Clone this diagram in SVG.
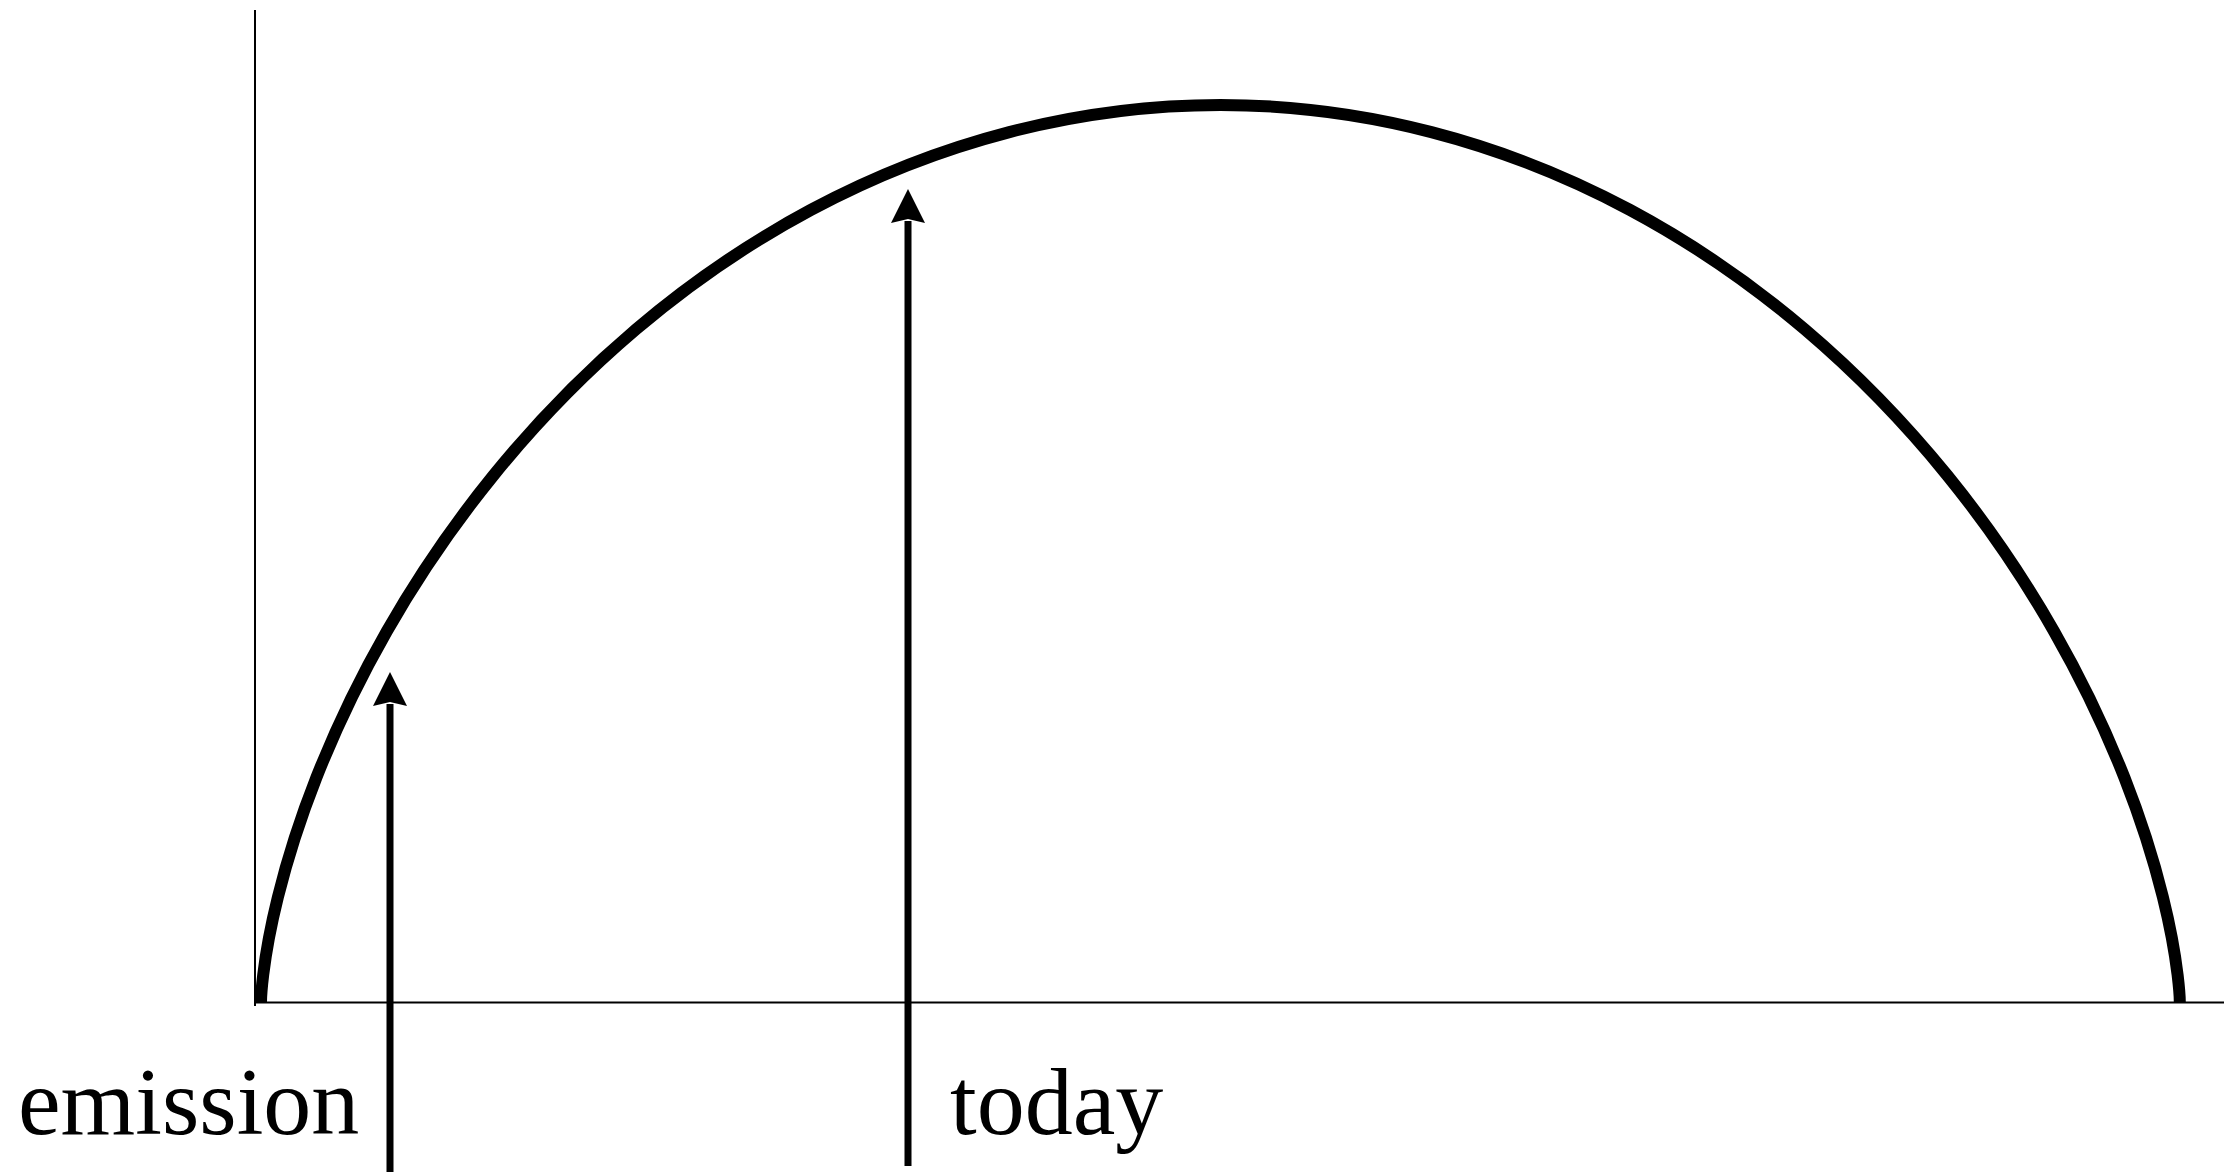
<svg xmlns="http://www.w3.org/2000/svg" width="2224" height="1172" viewBox="0 0 2224 1172">
<style>
.axis{stroke:#000;stroke-width:2;fill:none}
.curve{stroke:#000;stroke-width:12;fill:none;stroke-linecap:butt}
.arrow{stroke:#000;stroke-width:7;fill:none}
.label{font-family:"Liberation Serif","Times New Roman",serif;font-size:96px;fill:#000}
</style>
<defs>
<marker id="head" markerUnits="userSpaceOnUse" markerWidth="34" markerHeight="34" refX="2" refY="17" orient="auto" overflow="visible">
<path d="M0,0 L34,17 L0,34 L4,17 Z" fill="#000"/>
</marker>
</defs>
<g id="axes">
<line class="axis" x1="255" y1="10" x2="255" y2="1006"/>
<line class="axis" x1="255" y1="1002.5" x2="2224" y2="1002.5"/>
</g>
<g id="scale-factor-curve">
<path class="curve" d="M261,1002 C261,1002 261.06,992.75 263.2,974.9 C265.34,957.05 269.59,930.65 277.9,897.1 C286.21,863.55 298.53,823 316.3,777.8 C334.07,732.6 357.33,682.79 386.7,631.4 C416.07,580.01 451.59,526.99 493.3,475.6 C535.01,424.21 582.8,374.45 636.1,329.25 C689.4,284.05 748.14,243.45 810.9,209.9 C873.66,176.35 940.47,149.95 1009.4,132.1 C1078.33,114.25 1149.33,105 1220.4,105 C1291.47,105 1362.47,114.25 1431.4,132.1 C1500.33,149.95 1567.14,176.35 1629.9,209.9 C1692.66,243.45 1751.4,284.05 1804.7,329.25 C1858,374.45 1905.79,424.21 1947.5,475.6 C1989.21,526.99 2024.73,580.01 2054.1,631.4 C2083.47,682.79 2106.73,732.6 2124.5,777.8 C2142.27,823 2154.59,863.55 2162.9,897.1 C2171.21,930.65 2175.46,957.05 2177.6,974.9 C2179.74,992.75 2179.8,1002 2179.8,1002"/>
</g>
<g id="connectors">
<line class="arrow" x1="390" y1="1172" x2="390" y2="704" marker-end="url(#head)"/>
<line class="arrow" x1="908" y1="1166" x2="908" y2="221" marker-end="url(#head)"/>
</g>
<g id="label-emission">
<text class="label" x="18" y="1134">emission</text>
</g>
<g id="label-today">
<text class="label" x="950" y="1134">today</text>
</g>
</svg>
